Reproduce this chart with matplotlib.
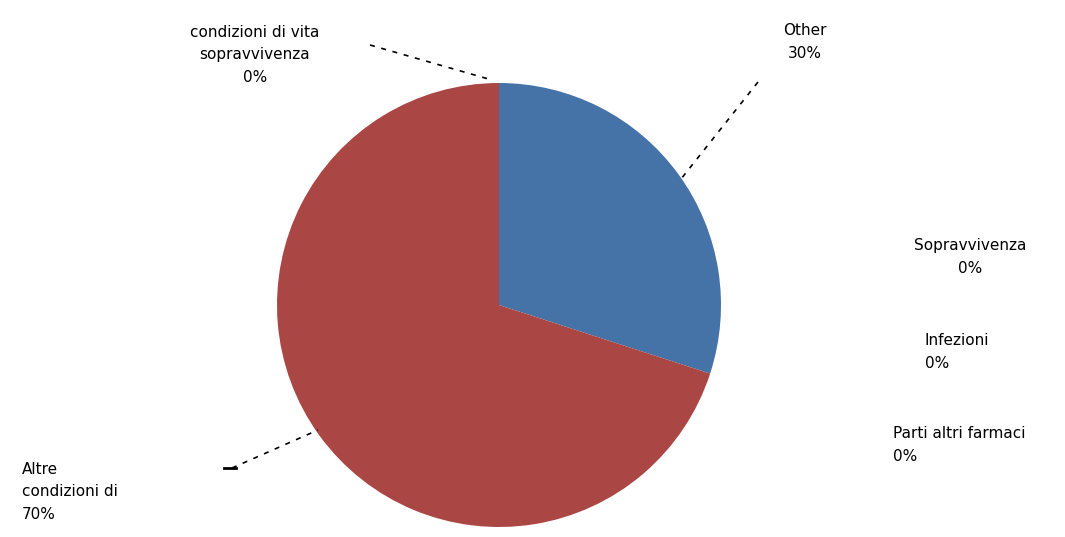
import numpy as np
import matplotlib
matplotlib.use("Agg")
import matplotlib.pyplot as plt

# slice data (clockwise from 12 o'clock)
labels = ["Other", "Altre condizioni di", "Sopravvivenza", "Infezioni",
          "Parti altri farmaci", "condizioni di vita sopravvivenza"]
values = [30, 70, 0, 0, 0, 0]
colors = ["#4572A7", "#AA4643", "#89A54E", "#80699B", "#3D96AE", "#DB843D"]

W, H = 1065, 537
fig = plt.figure(figsize=(W / 100, H / 100), dpi=100)
ax = fig.add_axes([0, 0, 1, 1])
ax.set_xlim(0, W)
ax.set_ylim(0, H)
ax.axis("off")

cx, cy, r = 499, H - 305, 222
wedges, _ = ax.pie(values, colors=colors, startangle=90, counterclock=False,
                   center=(cx, cy), radius=r,
                   wedgeprops=dict(linewidth=0))
ax.set_xlim(0, W)
ax.set_ylim(0, H)
ax.set_aspect("equal")


def pct(v):
    return "%d%%" % round(100.0 * v / sum(values))


def edge_point(w):
    a = np.deg2rad((w.theta1 + w.theta2) / 2)
    return cx + r * np.cos(a), cy + r * np.sin(a)


fs = 11
kw = dict(fontsize=fs, color="black", linespacing=1.6)
line_kw = dict(color="black", lw=1.2, ls=(0, (3, 4)))

# Other
x, y = edge_point(wedges[0])
ax.plot([758, x + 2], [H - 82, y - 5], **line_kw)
ax.text(805, H - 42, labels[0] + "\n" + pct(values[0]), ha="center", va="center", **kw)

# red slice label, bottom left
ax.plot([232, 318], [H - 468, H - 430], **line_kw)
ax.plot([224, 236], [H - 468, H - 468], color="black", lw=2)
ax.text(22, H - 492, "Altre\ncondizioni di\n" + pct(values[1]), ha="left", va="center", **kw)

# zero slice at the top
ax.plot([370, 492], [H - 45, H - 80], **line_kw)
ax.text(255, H - 55, "condizioni di vita\nsopravvivenza\n" + pct(values[5]),
        ha="center", va="center", **kw)

# zero slices on the right
ax.text(970, H - 257, labels[2] + "\n" + pct(values[2]), ha="center", va="center", **kw)
ax.text(925, H - 352, labels[3] + "\n" + pct(values[3]), ha="left", va="center", **kw)
ax.text(893, H - 445, labels[4] + "\n" + pct(values[4]), ha="left", va="center", **kw)

fig.savefig("out.png", dpi=100)
